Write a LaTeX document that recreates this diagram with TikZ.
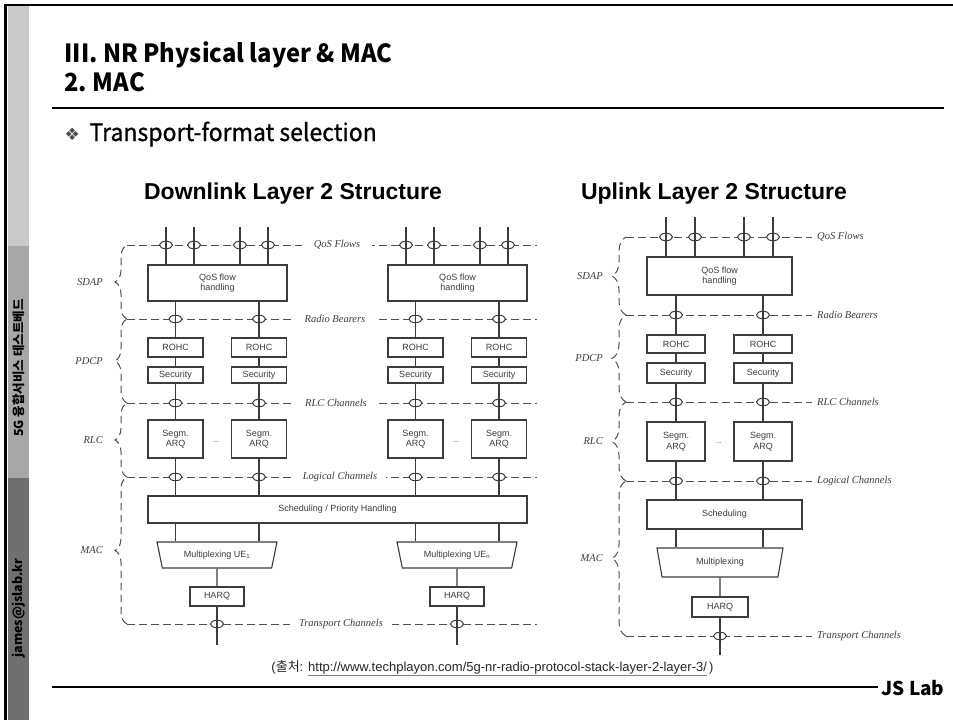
\documentclass[tikz,border=0pt]{standalone}
\usepackage{fontspec}
\setmainfont{Liberation Sans}
\newfontfamily\krfont{Noto Sans CJK KR}
\newfontfamily\krsemi{Noto Sans CJK KR}[FakeBold=0.8]
\newfontfamily\boxfont{Liberation Sans}
\newfontfamily\chanfont{Liberation Serif}
\newfontfamily\symfont{DejaVu Sans}
\usetikzlibrary{shapes.geometric,decorations.pathreplacing}

\definecolor{bandA}{HTML}{C9C9C9}
\definecolor{bandB}{HTML}{A7A7A7}
\definecolor{bandC}{HTML}{707070}
\definecolor{ink}{HTML}{3C3C3C}
\definecolor{chanink}{HTML}{505050}

\newcommand{\srcurl}[1]{{\color{gray}\underline{\color{black!85}#1}}}

\tikzset{
  blk/.style={draw=ink, line width=1.1pt, fill=white, inner sep=0pt, align=center,
    text=ink, font=\boxfont\fontsize{9}{10.5}\selectfont},
  oval/.style={ellipse, draw=ink, line width=1pt, fill=white,
    minimum width=13pt, minimum height=7.5pt, inner sep=0pt},
  wire/.style={draw=ink, line width=1.1pt},
  chan/.style={draw=chanink, line width=1pt, dash pattern=on 7.5pt off 4.5pt},
  lbrace/.style={chan, decorate, decoration={brace, amplitude=#1}},
  chlab/.style={text=ink, inner sep=1pt, font=\chanfont\itshape\fontsize{10.5}{12}\selectfont},
  laylab/.style={chlab, anchor=east},
  muxbox/.style={trapezium, shape border rotate=180, trapezium stretches body=true,
    trapezium angle=#1, draw=ink, line width=1.1pt, fill=white, inner sep=0pt,
    text=ink, font=\boxfont\fontsize{9}{10.5}\selectfont},
  dots/.style={text=ink, font=\boxfont\fontsize{7}{8}\selectfont},
  hdr/.style={anchor=base west, font=\krfont\bfseries\fontsize{25}{30}\selectfont},
  sidetxt/.style={rotate=90, font=\krfont\bfseries\fontsize{12.5}{14}\selectfont},
  diaghead/.style={anchor=base, font=\boxfont\bfseries\fontsize{23}{27}\selectfont},
}

\begin{document}
\begin{tikzpicture}[x=1pt,y=-1pt]
\useasboundingbox (0,0) rectangle (953,720);
\fill[white] (0,0) rectangle (953,720);

% ---------- side bar and frame ----------
\fill[bandA] (8,6) rectangle (29,246);
\fill[bandB] (8,246) rectangle (29,478);
\fill[bandC] (8,478) rectangle (29,720);
\coordinate (frA) at (5.5,720);
\coordinate (frB) at (5.5,5);
\coordinate (frC) at (953,5);
\draw[line width=2.6pt] (frA) -- (frB) -- (frC);
\node[sidetxt] (side1) at (18.5,368) {5G 융합서비스 테스트베드};
\node[sidetxt] (side2) at (18.5,608) {james@jslab.kr};

% ---------- slide header ----------
\node[hdr] (title) at (61,62) {\scalebox{0.95}[1]{III.\ NR Physical layer \& MAC}};
\node[hdr] (sub) at (61,91) {\scalebox{0.95}[1]{2.\ MAC}};
\coordinate (hrA) at (52,108);
\coordinate (hrB) at (944,108);
\draw[line width=2pt] (hrA) -- (hrB);
\node[anchor=base west, text=black!70, font=\symfont\fontsize{17}{20}\selectfont] (bullet) at (61,140) {❖};
\node[anchor=base west, font=\krsemi\fontsize{24}{28}\selectfont] (topic) at (86,141) {\scalebox{0.96}[1]{Transport-format selection}};

\node[diaghead] (dlhead) at (293,199) {Downlink Layer 2 Structure};
\node[diaghead] (ulhead) at (714,199) {Uplink Layer 2 Structure};

% ================= Downlink =================
\foreach \n/\y in {qf/245, rb/319, rlc/403, lc/477, tc/624}{
  \coordinate (d\n-w) at (127,\y);
  \coordinate (d\n-e) at (537,\y);
  \draw[chan] (d\n-w) -- (d\n-e);
}
\draw[lbrace=12pt] (drb-w) -- (dqf-w);
\draw[lbrace=12pt] (drlc-w) -- (drb-w);
\draw[lbrace=12pt] (dlc-w) -- (drlc-w);
\draw[lbrace=12pt] (dtc-w) -- (dlc-w);

\node[chlab, fill=white, inner xsep=12pt] (dqf-lab) at (337,245) {QoS Flows};
\node[chlab, fill=white, inner xsep=10pt] (drb-lab) at (335,319) {Radio Bearers};
\node[chlab, fill=white, inner xsep=10pt] (drlc-lab) at (336,403) {RLC Channels};
\node[chlab, fill=white, inner xsep=9pt] (dlc-lab) at (340,477) {Logical Channels};
\node[chlab, fill=white, inner xsep=9pt] (dtc-lab) at (341,624) {Transport Channels};

\node[laylab] (dsdap) at (104,282) {SDAP};
\node[laylab] (dpdcp) at (104,361) {PDCP};
\node[laylab] (drlcl) at (104,440) {RLC};
\node[laylab] (dmacl) at (104,550) {MAC};

\foreach \s/\bx in {L/148, R/388}{
  \foreach \j/\dx in {1/18, 2/46, 3/92, 4/120}
    \node[oval] (dqf\s\j) at (\bx+\dx,245) {};
  \foreach \k/\dx in {1/27.5, 2/111}{
    \node[oval] (drb\s\k) at (\bx+\dx,319) {};
    \node[oval] (drlc\s\k) at (\bx+\dx,403) {};
    \node[oval] (dlc\s\k) at (\bx+\dx,477) {};
  }
  \node[oval] (dtc\s) at (\bx+69,624) {};

  \node[blk, minimum width=139pt, minimum height=36pt] (dqos\s) at (\bx+69.5,283) {QoS flow\\handling};
  \foreach \k/\dx in {1/27.5, 2/111}{
    \node[blk, minimum width=55pt, minimum height=19pt] (drohc\s\k) at (\bx+\dx,347.5) {ROHC};
    \node[blk, minimum width=55pt, minimum height=16pt] (dsec\s\k) at (\bx+\dx,375) {Security};
    \node[blk, minimum width=55pt, minimum height=38pt] (dseg\s\k) at (\bx+\dx,439) {Segm.\\ARQ};
  }
  \node[dots] (ddots\s) at (\bx+68,442) {...};
  \node[blk, minimum width=54pt, minimum height=19pt] (dharq\s) at (\bx+69,596.5) {HARQ};
}
\node[blk, minimum width=379pt, minimum height=27pt] (dsched) at (337.5,509.5) {Scheduling / Priority Handling};
\node[muxbox=57.6, minimum width=120pt, minimum height=26pt] (dmuxL) at (217,555) {Multiplexing UE\textsubscript{1}};
\node[muxbox=57.6, minimum width=120pt, minimum height=26pt] (dmuxR) at (457,555) {Multiplexing UE\textsubscript{n}};

\foreach \s/\bx in {L/148, R/388}{
  \foreach \j/\dx in {1/18, 2/46, 3/92, 4/120}{
    \coordinate (dft\s\j) at (\bx+\dx,227);
    \draw[wire] (dft\s\j) -- (dft\s\j |- dqos\s.north);
  }
  \foreach \k in {1,2}{
    \draw[wire] (dqos\s.south -| drohc\s\k) -- (drohc\s\k.north);
    \draw[wire] (drohc\s\k) -- (dsec\s\k);
    \draw[wire] (dsec\s\k) -- (dseg\s\k);
    \draw[wire] (dseg\s\k) -- (dsched.north -| dseg\s\k);
    \draw[wire] (dsched.south -| dseg\s\k) -- (dmux\s.north -| dseg\s\k);
  }
  \draw[wire] (dmux\s) -- (dharq\s);
  \coordinate (dend\s) at (\bx+69,645);
  \draw[wire] (dharq\s) -- (dend\s);
}

% ================= Uplink =================
\foreach \n/\y/\t in {qf/237/QoS Flows, rb/315/Radio Bearers, rlc/402/RLC Channels,
                      lc/481/Logical Channels, tc/636/Transport Channels}{
  \coordinate (u\n-w) at (626,\y);
  \coordinate (u\n-e) at (812,\y);
  \draw[chan] (u\n-w) -- (u\n-e);
  \node[chlab, anchor=west] (u\n-lab) at (816,\y) {\t};
}
\draw[lbrace=14pt] (urb-w) -- (uqf-w);
\draw[lbrace=14pt] (urlc-w) -- (urb-w);
\draw[lbrace=14pt] (ulc-w) -- (urlc-w);
\draw[lbrace=14pt] (utc-w) -- (ulc-w);

\node[laylab] (usdap) at (604,276) {SDAP};
\node[laylab] (updcp) at (604,358) {PDCP};
\node[laylab] (urlcl) at (604,441) {RLC};
\node[laylab] (umacl) at (604,558) {MAC};

\foreach \j/\dx in {1/19, 2/48, 3/97, 4/126}
  \node[oval] (uqf\j) at (647+\dx,237) {};
\foreach \k/\dx in {1/29, 2/116}{
  \node[oval] (urb\k) at (647+\dx,315) {};
  \node[oval] (urlc\k) at (647+\dx,402) {};
  \node[oval] (ulc\k) at (647+\dx,481) {};
}
\node[oval] (utc) at (720,636) {};

\node[blk, minimum width=145pt, minimum height=38pt] (uqos) at (719.5,276) {QoS flow\\handling};
\foreach \k/\dx in {1/29, 2/116}{
  \node[blk, minimum width=58pt, minimum height=18pt] (urohc\k) at (647+\dx,344) {ROHC};
  \node[blk, minimum width=58pt, minimum height=20pt] (usec\k) at (647+\dx,373) {Security};
  \node[blk, minimum width=58pt, minimum height=39pt] (useg\k) at (647+\dx,441.5) {Segm.\\ARQ};
}
\node[dots] (udots) at (719,443) {...};
\node[blk, minimum width=155pt, minimum height=29pt] (usched) at (724.5,514.5) {Scheduling};
\node[muxbox=58.9, minimum width=126pt, minimum height=29pt] (umux) at (720,562.5) {Multiplexing};
\node[blk, minimum width=56pt, minimum height=20pt] (uharq) at (720,607) {HARQ};

\foreach \j/\dx in {1/19, 2/48, 3/97, 4/126}{
  \coordinate (uft\j) at (647+\dx,217);
  \draw[wire] (uft\j) -- (uft\j |- uqos.north);
}
\foreach \k in {1,2}{
  \draw[wire] (uqos.south -| urohc\k) -- (urohc\k.north);
  \draw[wire] (urohc\k) -- (usec\k);
  \draw[wire] (usec\k) -- (useg\k);
  \draw[wire] (useg\k) -- (usched.north -| useg\k);
  \draw[wire] (usched.south -| useg\k) -- (umux.north -| useg\k);
}
\draw[wire] (umux) -- (uharq);
\coordinate (uend) at (720,655);
\draw[wire] (uharq) -- (uend);

% ---------- source note and footer ----------
\node[anchor=east, font=\boxfont\fontsize{13}{15}\selectfont, text=black!85] (src) at (717,668)
  {({\krfont 출처}: \srcurl{http://www.techplayon.com/5g-nr-radio-protocol-stack-layer-2-layer-3/}\,)};
\node[anchor=east, font=\krfont\bfseries\fontsize{19}{22}\selectfont] (jslab) at (948,688) {JS Lab};
\coordinate (ftA) at (52,687);
\draw[line width=1.4pt] (ftA) -- (jslab.west |- ftA);
\end{tikzpicture}
\end{document}
